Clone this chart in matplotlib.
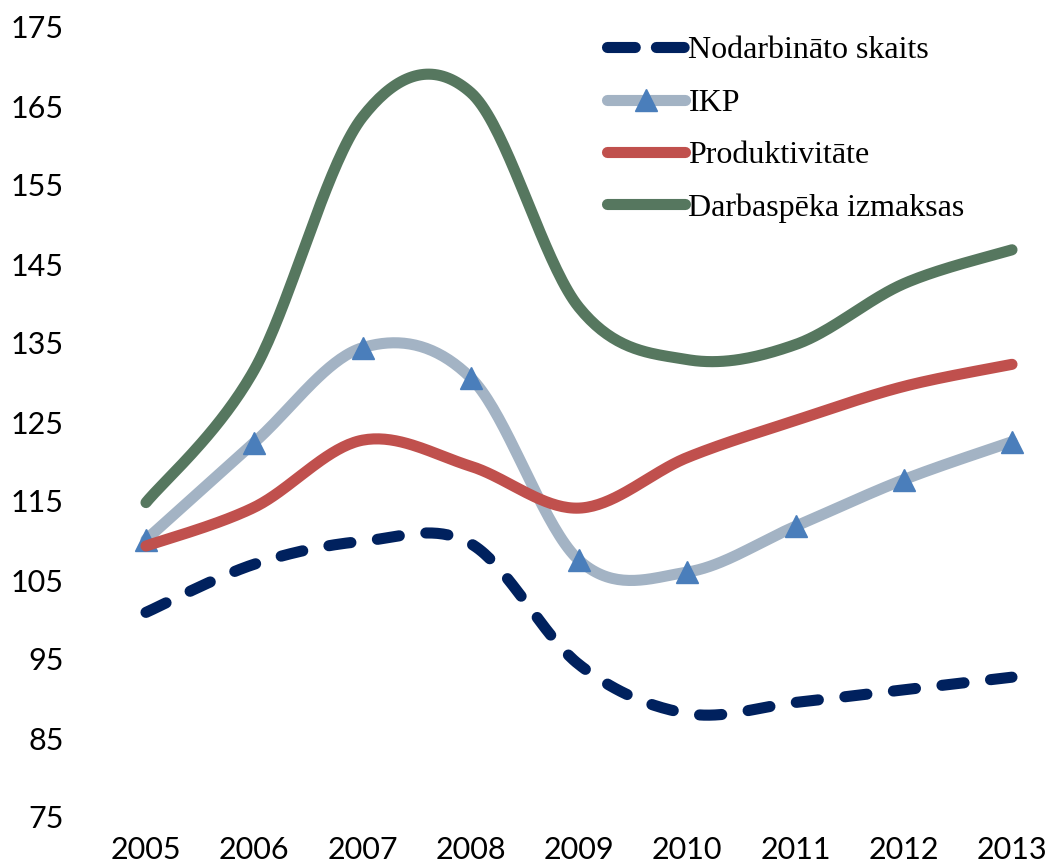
import numpy as np
import matplotlib
matplotlib.use("Agg")
import matplotlib.pyplot as plt
from matplotlib.lines import Line2D

years = [2005, 2006, 2007, 2008, 2009, 2010, 2011, 2012, 2013]
nodarbinato = [100.9, 107.0, 109.9, 109.6, 94.3, 88.1, 89.5, 91.1, 92.7]
ikp = [110.1, 122.4, 134.4, 130.6, 107.5, 106.0, 111.8, 117.7, 122.5]
produktivitate = [109.3, 114.2, 122.7, 119.4, 114.1, 120.5, 125.2, 129.5, 132.3]
darbaspeka = [114.8, 131.6, 163.6, 166.7, 139.5, 132.9, 134.8, 142.5, 146.8]
labels = ["Nodarbināto skaits", "IKP", "Produktivitāte", "Darbaspēka izmaksas"]
yticks = list(range(75, 176, 10))

c_nod = "#00215E"
c_ikp = "#A3B3C4"
c_ikp_m = "#4A7EBB"
c_prod = "#C0504D"
c_darb = "#56775F"


def smooth(xs, ys, n=40):
    """Excel-style smoothed line (Catmull-Rom Bezier) through the data points."""
    xs = np.asarray(xs, float)
    ys = np.asarray(ys, float)
    px = np.concatenate([[xs[0]], xs, [xs[-1]]])
    py = np.concatenate([[ys[0]], ys, [ys[-1]]])
    ox, oy = [], []
    t = np.linspace(0, 1, n)
    for i in range(1, len(px) - 2):
        p0 = np.array([px[i], py[i]])
        p3 = np.array([px[i + 1], py[i + 1]])
        p1 = p0 + (np.array([px[i + 1], py[i + 1]]) - np.array([px[i - 1], py[i - 1]])) / 6
        p2 = p3 - (np.array([px[i + 2], py[i + 2]]) - np.array([px[i], py[i]])) / 6
        b = ((1 - t) ** 3)[:, None] * p0 + (3 * (1 - t) ** 2 * t)[:, None] * p1 \
            + (3 * (1 - t) * t ** 2)[:, None] * p2 + (t ** 3)[:, None] * p3
        if i > 1:
            b = b[1:]
        ox.extend(b[:, 0])
        oy.extend(b[:, 1])
    return np.array(ox), np.array(oy)


W, H = 1050, 864
fig = plt.figure(figsize=(W / 100, H / 100), dpi=100)
left_px, right_px = 70, 1045
top_px, bot_px = 27, 817
ax = fig.add_axes([left_px / W, 1 - bot_px / H, (right_px - left_px) / W, (bot_px - top_px) / H])

x2005, x2013 = 146, 1012
ppy = (x2013 - x2005) / 8
ax.set_xlim(2005 - (x2005 - left_px) / ppy, 2013 + (right_px - x2013) / ppy)
ax.set_ylim(75, 175)

lw = 8
sx, sy = smooth(years, nodarbinato)
ax.plot(sx, sy, color=c_nod, lw=lw, dashes=(2.0, 2.4), dash_capstyle="round", zorder=2)
sx, sy = smooth(years, ikp)
ax.plot(sx, sy, color=c_ikp, lw=lw, solid_capstyle="round", zorder=3)
ax.plot(years, ikp, ls="none", marker="^", ms=16, color=c_ikp_m, mec=c_ikp_m, zorder=3.5)
sx, sy = smooth(years, produktivitate)
ax.plot(sx, sy, color=c_prod, lw=lw, solid_capstyle="round", zorder=4)
sx, sy = smooth(years, darbaspeka)
ax.plot(sx, sy, color=c_darb, lw=lw, solid_capstyle="round", zorder=5)

for s in ax.spines.values():
    s.set_visible(False)
ax.set_xticks(years)
ax.set_xticklabels([str(y) for y in years])
ax.set_yticks(yticks)
ax.set_yticklabels([str(v) for v in yticks])
ax.tick_params(axis="both", length=0, labelsize=22)
ax.tick_params(axis="x", pad=14)
ax.tick_params(axis="y", pad=4.5)
for lab in ax.get_xticklabels() + ax.get_yticklabels():
    lab.set_family("Lato")

handles = [
    Line2D([], [], color=c_nod, lw=lw, dashes=(2.5, 1.9), dash_capstyle="round"),
    Line2D([], [], color=c_ikp, lw=lw, solid_capstyle="round", marker="^", ms=16,
           mfc=c_ikp_m, mec=c_ikp_m),
    Line2D([], [], color=c_prod, lw=lw, solid_capstyle="round"),
    Line2D([], [], color=c_darb, lw=lw, solid_capstyle="round"),
]
leg = fig.legend(handles, labels, loc="upper left", bbox_to_anchor=(607 / W, 1 - 36 / H),
                 frameon=False, prop={"family": "Liberation Serif", "size": 23},
                 handlelength=2.45, handletextpad=0.1, labelspacing=0.72, borderpad=0,
                 borderaxespad=0)

fig.savefig("out.png", dpi=100)
